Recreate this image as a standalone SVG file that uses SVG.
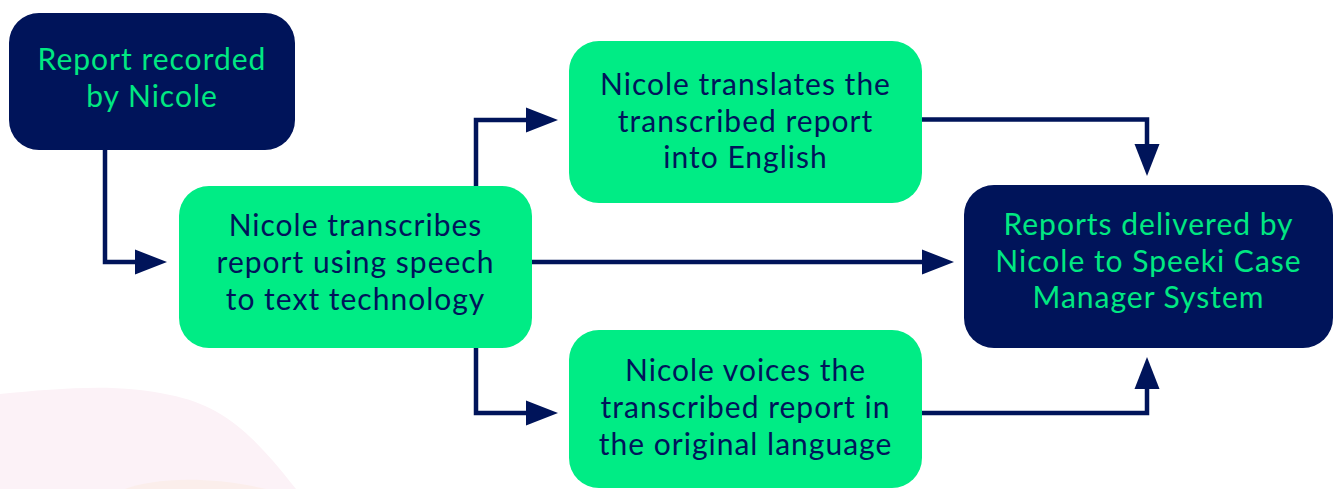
<svg xmlns="http://www.w3.org/2000/svg" width="1341" height="489" viewBox="0 0 1341 489">
<defs>
<style>
.dark{fill:#00145A}
.green{fill:#00EC85}
.tl{font-family:Lato,"Liberation Sans",sans-serif;font-size:30px;letter-spacing:1px;text-anchor:middle}
.tl.onDark{fill:#00E882}
.tl.onGreen{fill:#00145A}
.conn{fill:none;stroke:#00145A;stroke-width:4.5;marker-end:url(#ah)}
</style>
<marker id="ah" markerUnits="userSpaceOnUse" markerWidth="32" markerHeight="26" refX="0" refY="12.5" orient="auto" overflow="visible">
<path d="M0,0 L32,12.5 L0,25 Z" fill="#00145A"/>
</marker>
</defs>
<rect width="1341" height="489" fill="#FFFFFF"/>
<path d="M0,394 C60,388 120,383 170,395 C220,405 250,430 296,489 L0,489 Z" fill="#FCF2F7"/>
<path d="M125,489 C150,480 200,474 266,489 Z" fill="#FBEEEB"/>
<g id="connectors">
<path class="conn" d="M105,150 V262 H135"/>
<path class="conn" d="M476,186 V120 H526"/>
<path class="conn" d="M532,262 H922"/>
<path class="conn" d="M476,348 V413 H526"/>
<path class="conn" d="M922,119.5 H1147 V144"/>
<path class="conn" d="M922,413 H1147 V389"/>
</g>
<g id="n1">
<rect class="dark" x="9" y="13" width="286" height="137" rx="30"/>
<text class="tl onDark" x="152" y="70">Report recorded</text>
<text class="tl onDark" x="152" y="107">by Nicole</text>
</g>
<g id="n2">
<rect class="green" x="179" y="186" width="353" height="162" rx="30"/>
<text class="tl onGreen" x="355.5" y="236">Nicole transcribes</text>
<text class="tl onGreen" x="355.5" y="273">report using speech</text>
<text class="tl onGreen" x="355.5" y="310">to text technology</text>
</g>
<g id="n3">
<rect class="green" x="569" y="41" width="353" height="162" rx="30"/>
<text class="tl onGreen" x="745.5" y="95">Nicole translates the</text>
<text class="tl onGreen" x="745.5" y="132">transcribed report</text>
<text class="tl onGreen" x="745.5" y="168">into English</text>
</g>
<g id="n4">
<rect class="green" x="569" y="330" width="353" height="158" rx="30"/>
<text class="tl onGreen" x="745.5" y="381">Nicole voices the</text>
<text class="tl onGreen" x="745.5" y="418">transcribed report in</text>
<text class="tl onGreen" x="745.5" y="455">the original language</text>
</g>
<g id="n5">
<rect class="dark" x="964" y="185" width="369" height="163" rx="30"/>
<text class="tl onDark" x="1148.5" y="235">Reports delivered by</text>
<text class="tl onDark" x="1148.5" y="272">Nicole to Speeki Case</text>
<text class="tl onDark" x="1148.5" y="308">Manager System</text>
</g>
</svg>
